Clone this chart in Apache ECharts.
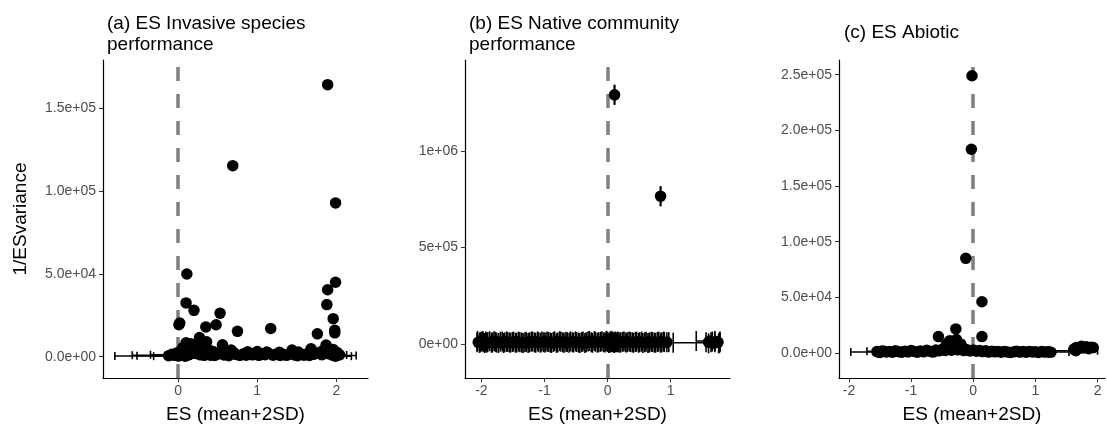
<!DOCTYPE html>
<html>
<head>
<meta charset="utf-8">
<style>
  html, body { margin: 0; padding: 0; background: #fff; }
  #chart { width: 1107px; height: 436px; }
</style>
</head>
<body>
<div id="chart"></div>
<script src="https://cdn.jsdelivr.net/npm/echarts@6/dist/echarts.min.js"></script>
<script>
// panel titles
var panelTitles = ['(a) ES Invasive species\nperformance', '(b) ES Native community\nperformance', '(c) ES Abiotic'];

// tick values / labels
var xTicksA = [0, 1, 2];
var xTicksB = [-2, -1, 0, 1];
var xTicksC = [-2, -1, 0, 1, 2];
var yTicksA = [0, 50000, 100000, 150000];
var yLabelsA = ['0.0e+00', '5.0e+04', '1.0e+05', '1.5e+05'];
var yTicksB = [0, 500000, 1000000];
var yLabelsB = ['0e+00', '5e+05', '1e+06'];
var yTicksC = [0, 50000, 100000, 150000, 200000, 250000];
var yLabelsC = ['0.0e+00', '5.0e+04', '1.0e+05', '1.5e+05', '2.0e+05', '2.5e+05'];

// [ES, 1/ESvariance, lower, upper]
var pointsA = [
  [1.89, 164500, 1.87, 1.91], [0.69, 115500, 0.67, 0.71], [1.99, 93000, 1.97, 2.01],
  [0.11, 50000, 0.09, 0.13], [1.99, 45000, 1.97, 2.01], [1.89, 40500, 1.87, 1.91],
  [0.10, 32500, 0.08, 0.12], [1.88, 31500, 1.86, 1.90], [0.20, 28000, 0.18, 0.22],
  [0.53, 26300, 0.51, 0.55], [1.96, 23000, 1.94, 1.98], [0.02, 20300, 0.00, 0.04],
  [0.01, 19300, -0.01, 0.03], [0.48, 19300, 0.46, 0.50], [0.35, 18000, 0.33, 0.37],
  [1.17, 17000, 1.15, 1.19], [0.75, 15300, 0.73, 0.77], [1.98, 16000, 1.96, 2.00],
  [1.98, 14400, 1.96, 2.00], [1.76, 13800, 1.74, 1.78], [0.27, 11600, 0.25, 0.29],
  [0.36, 9000, 0.34, 0.38], [0.10, 8400, 0.08, 0.12], [0.16, 7800, 0.14, 0.18],
  [0.21, 7000, 0.19, 0.23], [0.56, 7200, 0.54, 0.58], [1.87, 7000, 1.85, 1.89],
  [1.68, 4800, 1.66, 1.70], [1.44, 4000, 1.42, 1.46], [0.67, 4000, 0.65, 0.69],
  [1.96, 4400, 1.94, 1.98], [0.30, 5200, 0.28, 0.32], [0.06, 5500, 0.04, 0.08],
  [0.41, 3600, 0.39, 0.43], [1.82, 3400, 1.80, 1.84], [0.13, 4500, 0.11, 0.15],
  [0.00, 400, -0.80, 0.80], [0.04, 900, -0.58, 0.66], [0.02, 600, -0.52, 0.56],
  [0.07, 1200, -0.35, 0.49], [0.09, 300, -0.31, 0.49], [1.96, 700, 1.67, 2.25],
  [1.99, 300, 1.79, 2.19], [2.01, 1000, 1.89, 2.13],
  [-0.12, 600, -0.16, -0.08], [-0.08, 1400, -0.12, -0.04], [-0.05, 800, -0.09, -0.01],
  [-0.02, 2200, -0.06, 0.02], [0.01, 1500, -0.03, 0.05], [0.03, 2800, -0.01, 0.07],
  [0.06, 1800, 0.02, 0.10], [0.08, 3200, 0.04, 0.12], [0.12, 2400, 0.08, 0.16],
  [0.14, 1200, 0.10, 0.18], [0.17, 3000, 0.13, 0.21], [0.22, 1900, 0.18, 0.26],
  [0.25, 2600, 0.21, 0.29], [0.28, 1100, 0.24, 0.32], [0.31, 2000, 0.27, 0.35],
  [0.33, 800, 0.29, 0.37], [0.38, 1700, 0.34, 0.42], [0.41, 900, 0.37, 0.45],
  [0.44, 2100, 0.40, 0.48], [0.46, 700, 0.42, 0.50], [0.50, 1500, 0.46, 0.54],
  [0.54, 2300, 0.50, 0.58], [0.58, 1000, 0.54, 0.62], [0.61, 1800, 0.57, 0.65],
  [0.64, 600, 0.60, 0.68], [0.70, 2500, 0.66, 0.74], [0.73, 1300, 0.69, 0.77],
  [0.78, 700, 0.74, 0.82], [0.82, 1600, 0.78, 0.86], [0.86, 900, 0.82, 0.90],
  [0.90, 1900, 0.86, 0.94], [0.94, 1100, 0.90, 0.98], [0.98, 2000, 0.94, 1.02],
  [1.02, 800, 0.98, 1.06], [1.06, 1700, 1.02, 1.10], [1.10, 1200, 1.06, 1.14],
  [1.14, 2200, 1.10, 1.18], [1.20, 900, 1.16, 1.24], [1.24, 1500, 1.20, 1.28],
  [1.29, 700, 1.25, 1.33], [1.33, 1300, 1.29, 1.37], [1.37, 800, 1.33, 1.41],
  [1.41, 1600, 1.37, 1.45], [1.47, 1000, 1.43, 1.51], [1.51, 600, 1.47, 1.55],
  [1.55, 1400, 1.51, 1.59], [1.59, 900, 1.55, 1.63], [1.63, 1800, 1.59, 1.67],
  [1.66, 700, 1.62, 1.70], [1.72, 1500, 1.68, 1.76], [1.78, 2300, 1.74, 1.82],
  [1.82, 1200, 1.78, 1.86], [1.85, 2700, 1.81, 1.89], [1.91, 1600, 1.87, 1.95],
  [1.93, 3000, 1.89, 1.97], [1.97, 1900, 1.93, 2.01], [2.01, 2500, 1.97, 2.05],
  [2.04, 1100, 2.00, 2.08],
  [0.04, 3800, 0.02, 0.06], [0.19, 4200, 0.17, 0.21], [0.24, 3500, 0.22, 0.26],
  [0.45, 3000, 0.43, 0.47], [0.62, 3300, 0.60, 0.64], [0.88, 2900, 0.86, 0.90],
  [1.00, 3100, 0.98, 1.02], [1.12, 2800, 1.10, 1.14], [1.28, 2600, 1.26, 1.30],
  [1.52, 2800, 1.50, 1.54], [1.70, 3000, 1.68, 1.72], [1.88, 3600, 1.86, 1.90]
];

var pointsB = [
  [0.11, 1293000, 0.105, 0.115], [0.84, 767000, 0.835, 0.845],
  [-2.05, 8000, -2.07, -2.02], [-2.02, 15000, -2.06, -1.98], [-1.99, 5000, -2.03, -1.95],
  [-1.96, 12000, -2.00, -1.93], [-1.93, 9000, -1.97, -1.90], [-1.88, 6000, -1.92, -1.84],
  [-1.83, 14000, -1.87, -1.80], [-1.79, 7000, -1.83, -1.76], [-1.74, 11000, -1.78, -1.70],
  [-1.69, 5000, -1.73, -1.65], [-1.64, 13000, -1.67, -1.60], [-1.60, 8000, -1.63, -1.56],
  [-1.55, 10000, -1.59, -1.51], [-1.50, 6000, -1.54, -1.46], [-1.45, 12000, -1.49, -1.41],
  [-1.40, 7000, -1.44, -1.36], [-1.35, 9000, -1.39, -1.31], [-1.30, 5000, -1.34, -1.26],
  [-1.25, 11000, -1.29, -1.21], [-1.20, 8000, -1.24, -1.16], [-1.15, 13000, -1.19, -1.11],
  [-1.10, 6000, -1.14, -1.06], [-1.05, 9000, -1.09, -1.01], [-1.00, 12000, -1.04, -0.96],
  [-0.95, 7000, -0.99, -0.91], [-0.90, 10000, -0.94, -0.86], [-0.85, 5000, -0.89, -0.81],
  [-0.80, 14000, -0.84, -0.76], [-0.75, 8000, -0.79, -0.71], [-0.70, 11000, -0.74, -0.66],
  [-0.65, 6000, -0.69, -0.61], [-0.60, 9000, -0.64, -0.56], [-0.55, 13000, -0.59, -0.51],
  [-0.50, 7000, -0.54, -0.46], [-0.45, 10000, -0.49, -0.41], [-0.40, 5000, -0.44, -0.36],
  [-0.35, 12000, -0.39, -0.31], [-0.30, 8000, -0.34, -0.26], [-0.25, 15000, -0.29, -0.21],
  [-0.20, 6000, -0.24, -0.16], [-0.15, 11000, -0.19, -0.11], [-0.10, 9000, -0.14, -0.06],
  [-0.05, 14000, -0.09, -0.01], [0.00, 7000, -0.04, 0.04], [0.02, 16000, -0.02, 0.06],
  [0.04, 10000, 0.00, 0.08], [0.06, 5000, 0.02, 0.10], [0.08, 13000, 0.04, 0.12],
  [0.10, 8000, 0.06, 0.14], [0.12, 12000, 0.08, 0.16], [0.14, 6000, 0.10, 0.18],
  [0.16, 9000, 0.12, 0.20], [0.20, 11000, 0.16, 0.24], [0.25, 7000, 0.21, 0.29],
  [0.30, 13000, 0.26, 0.34], [0.35, 8000, 0.31, 0.39], [0.40, 10000, 0.36, 0.44],
  [0.45, 6000, 0.41, 0.49], [0.50, 12000, 0.46, 0.54], [0.55, 9000, 0.51, 0.59],
  [0.60, 5000, 0.56, 0.64], [0.65, 11000, 0.61, 0.69], [0.70, 7000, 0.66, 0.74],
  [0.75, 10000, 0.71, 0.79], [0.80, 6000, 0.76, 0.84], [0.85, 12000, 0.81, 0.89],
  [0.90, 8000, 0.86, 0.94], [0.94, 9000, 0.90, 0.97],
  [1.65, 6000, 1.04, 1.77], [1.62, 15000, 1.405, 1.70], [1.68, 3000, 1.60, 1.76],
  [1.72, 12000, 1.66, 1.78], [1.75, 8000, 1.70, 1.78], [1.60, 9000, 1.56, 1.64]
];

var pointsC = [
  [-0.02, 249000, -0.03, -0.01], [-0.03, 183000, -0.04, -0.02], [-0.12, 85000, -0.13, -0.11],
  [0.14, 46000, 0.13, 0.15], [-0.28, 21600, -0.30, -0.26], [-0.56, 14700, -0.58, -0.54],
  [0.14, 14700, 0.12, 0.16], [-0.27, 12000, -0.29, -0.25], [-0.38, 11000, -0.40, -0.36],
  [-0.43, 8000, -0.45, -0.41], [-0.20, 8000, -0.22, -0.18], [-0.33, 6000, -0.35, -0.31],
  [-0.25, 5000, -0.27, -0.23], [-0.47, 4500, -0.49, -0.45], [-0.15, 4000, -0.17, -0.13],
  [-1.52, 800, -1.97, -1.07], [-1.48, 1500, -1.71, -1.25],
  [-1.55, 1200, -1.58, -1.52], [-1.50, 500, -1.53, -1.47], [-1.45, 1800, -1.48, -1.42],
  [-1.40, 900, -1.43, -1.37], [-1.35, 1400, -1.38, -1.32], [-1.30, 600, -1.33, -1.27],
  [-1.25, 2000, -1.28, -1.22], [-1.20, 1100, -1.23, -1.17], [-1.15, 700, -1.18, -1.12],
  [-1.10, 1600, -1.13, -1.07], [-1.05, 900, -1.08, -1.02], [-1.00, 2200, -1.03, -0.97],
  [-0.95, 1300, -0.98, -0.92], [-0.90, 600, -0.93, -0.87], [-0.85, 1700, -0.88, -0.82],
  [-0.80, 1000, -0.83, -0.77], [-0.75, 2400, -0.78, -0.72], [-0.70, 1500, -0.73, -0.67],
  [-0.65, 800, -0.68, -0.62], [-0.60, 2600, -0.63, -0.57], [-0.55, 1900, -0.58, -0.52],
  [-0.50, 3000, -0.53, -0.47], [-0.45, 2200, -0.48, -0.42], [-0.40, 3400, -0.43, -0.37],
  [-0.35, 2500, -0.38, -0.32], [-0.30, 3800, -0.33, -0.27], [-0.25, 2800, -0.28, -0.22],
  [-0.20, 3300, -0.23, -0.17], [-0.15, 2100, -0.18, -0.12], [-0.10, 2900, -0.13, -0.07],
  [-0.05, 1800, -0.08, -0.02], [0.00, 2600, -0.03, 0.03], [0.05, 1500, 0.02, 0.08],
  [0.10, 2300, 0.07, 0.13], [0.15, 1200, 0.12, 0.18], [0.20, 1900, 0.17, 0.23],
  [0.25, 800, 0.22, 0.28], [0.30, 1600, 0.27, 0.33], [0.35, 1000, 0.32, 0.38],
  [0.40, 1400, 0.37, 0.43], [0.45, 700, 0.42, 0.48], [0.50, 1300, 0.47, 0.53],
  [0.55, 900, 0.52, 0.58], [0.60, 500, 0.57, 0.63], [0.66, 1100, 0.63, 0.69],
  [0.70, 1500, 0.67, 0.73], [0.75, 800, 0.72, 0.78], [0.80, 1200, 0.77, 0.83],
  [0.85, 600, 0.82, 0.88], [0.90, 1400, 0.87, 0.93], [0.95, 900, 0.92, 0.98],
  [1.00, 1100, 0.97, 1.03], [1.05, 500, 1.02, 1.08], [1.10, 1300, 1.07, 1.13],
  [1.15, 800, 1.12, 1.18], [1.20, 1000, 1.17, 1.23], [1.25, 600, 1.22, 1.28],
  [1.22, 900, 0.90, 1.54], [1.65, 2000, 1.20, 2.00],
  [1.62, 3500, 1.59, 1.65], [1.66, 5000, 1.63, 1.69], [1.70, 4000, 1.67, 1.73],
  [1.74, 6000, 1.71, 1.77], [1.78, 4500, 1.75, 1.81], [1.82, 5500, 1.79, 1.85],
  [1.86, 3800, 1.83, 1.89], [1.90, 5200, 1.87, 1.93], [1.93, 4800, 1.90, 1.96]
];

var grids = [
  { left: 103, top: 60, width: 265, height: 318 },
  { left: 465, top: 60, width: 265, height: 318 },
  { left: 839, top: 60, width: 266, height: 318 }
];

function labelFrom(ticks, labels) {
  return function (v) {
    for (var i = 0; i < ticks.length; i++) {
      if (Math.abs(ticks[i] - v) < 1e-6) return labels[i];
    }
    return '';
  };
}

function makeX(gi, min, max, ticks) {
  return {
    type: 'value', gridIndex: gi, min: min, max: max,
    name: 'ES (mean+2SD)', nameLocation: 'middle', nameGap: 27,
    nameTextStyle: { fontSize: 19, color: '#000', fontFamily: 'Liberation Sans' },
    splitLine: { show: false },
    axisLine: { onZero: false, lineStyle: { color: '#000', width: 1.2 } },
    axisTick: { customValues: ticks, length: 4, lineStyle: { color: '#333' } },
    axisLabel: { customValues: ticks, fontSize: 14, color: '#4d4d4d', margin: 6, fontFamily: 'Liberation Sans' }
  };
}

function makeY(gi, min, max, ticks, labels, name) {
  return {
    type: 'value', gridIndex: gi, min: min, max: max,
    name: name || '', nameLocation: 'middle', nameGap: 73,
    nameTextStyle: { fontSize: 19, color: '#000', fontFamily: 'Liberation Sans' },
    splitLine: { show: false },
    axisLine: { onZero: false, lineStyle: { color: '#000', width: 1.2 } },
    axisTick: { customValues: ticks, length: 4, lineStyle: { color: '#333' } },
    axisLabel: { customValues: ticks, fontSize: 14, color: '#4d4d4d', margin: 7,
      fontFamily: 'Liberation Sans', formatter: labelFrom(ticks, labels) }
  };
}

// horizontal error bar with end caps
function errRender(capH) {
  return function (params, api) {
    var y = api.value(1);
    var a = api.coord([api.value(2), y]);
    var b = api.coord([api.value(3), y]);
    return {
      type: 'group',
      children: [
        { type: 'line', shape: { x1: a[0], y1: a[1], x2: b[0], y2: b[1] }, style: { stroke: '#000', lineWidth: 1.5 } },
        { type: 'line', shape: { x1: a[0], y1: a[1] - capH, x2: a[0], y2: a[1] + capH }, style: { stroke: '#000', lineWidth: 1.6 } },
        { type: 'line', shape: { x1: b[0], y1: b[1] - capH, x2: b[0], y2: b[1] + capH }, style: { stroke: '#000', lineWidth: 1.6 } }
      ]
    };
  };
}

function panelSeries(i, pts, capH) {
  return [
    {
      type: 'custom', xAxisIndex: i, yAxisIndex: i, data: pts,
      renderItem: errRender(capH), silent: true, z: 2,
      markLine: {
        silent: true, symbol: 'none', label: { show: false }, z: 1,
        lineStyle: { color: '#7f7f7f', width: 3.5, type: [14, 13] },
        data: [{ xAxis: 0 }]
      }
    },
    {
      type: 'scatter', xAxisIndex: i, yAxisIndex: i, data: pts,
      symbolSize: 11.5, itemStyle: { color: '#000', opacity: 1 }, z: 3
    }
  ];
}

var chart = echarts.init(document.getElementById('chart'));
var option = {
  animation: false,
  backgroundColor: '#fff',
  title: [
    { text: panelTitles[0], left: 102, top: 8, textStyle: { fontSize: 19, fontWeight: 'normal', color: '#000', lineHeight: 21, fontFamily: 'Liberation Sans' } },
    { text: panelTitles[1], left: 464, top: 8, textStyle: { fontSize: 19, fontWeight: 'normal', color: '#000', lineHeight: 21, fontFamily: 'Liberation Sans' } },
    { text: panelTitles[2], left: 839, top: 17, textStyle: { fontSize: 19, fontWeight: 'normal', color: '#000', lineHeight: 21, fontFamily: 'Liberation Sans' } }
  ],
  grid: grids,
  xAxis: [
    makeX(0, -0.95, 2.4, xTicksA),
    makeX(1, -2.26, 1.94, xTicksB),
    makeX(2, -2.16, 2.12, xTicksC)
  ],
  yAxis: [
    makeY(0, -12900, 179400, yTicksA, yLabelsA, '1/ESvariance'),
    makeY(1, -177000, 1474000, yTicksB, yLabelsB),
    makeY(2, -22500, 263200, yTicksC, yLabelsC)
  ],
  series: [].concat(
    panelSeries(0, pointsA, 4),
    panelSeries(1, pointsB, 10),
    panelSeries(2, pointsC, 4)
  )
};
chart.setOption(option);
</script>
</body>
</html>
